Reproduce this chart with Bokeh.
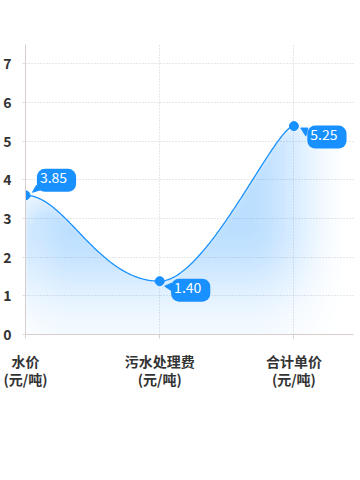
import numpy as np
from bokeh.plotting import figure
from bokeh.models import FixedTicker, Label, Range1d
from bokeh.embed import file_html
from bokeh.resources import INLINE

# ---- data ----
categories = ["水价\n(元/吨)", "污水处理费\n(元/吨)", "合计单价\n(元/吨)"]
plot_values = [3.60, 1.38, 5.39]          # positions of the points as drawn
value_labels = ["3.85", "1.40", "5.25"]   # texts in the callouts
y_ticks = [0, 1, 2, 3, 4, 5, 6, 7]

# ---- layout / style ----
X_END, Y_END = 2.444, 7.5
W, H = 354, 400
ML, MR, MT, MB = 23, 1, 44, 66
FW, FH = W - ML - MR, H - MT - MB
ppx, ppy = FW / X_END, FH / Y_END
BLUE = "#1890ff"
FONT = "Noto Sans CJK SC"
AXIS_COL = "#d8cccc"
GRID_COL = "#cfcfcf"

xs_cat = np.arange(len(categories), dtype=float)
ys = np.array(plot_values, dtype=float)

# ---- smooth curve (cubic bezier with horizontal handles) ----
handles = [(0.30, 0.46), (0.35, 0.14)]
t = np.linspace(0, 1, 120)
cx, cy = [], []
for i in range(len(xs_cat) - 1):
    x0, x1 = xs_cat[i], xs_cat[i + 1]
    y0, y1 = ys[i], ys[i + 1]
    a, b = handles[i]
    P = [(x0, y0), (x0 + a * (x1 - x0), y0), (x1 - b * (x1 - x0), y1), (x1, y1)]
    Bs = [(1 - t) ** 3, 3 * (1 - t) ** 2 * t, 3 * (1 - t) * t ** 2, t ** 3]
    bx = sum(Bs[k] * P[k][0] for k in range(4))
    by = sum(Bs[k] * P[k][1] for k in range(4))
    if i > 0:
        bx, by = bx[1:], by[1:]
    cx.extend(bx.tolist())
    cy.extend(by.tolist())
cx, cy = np.array(cx), np.array(cy)

# ---- gradient fill as an RGBA image ----
nx, ny = FW, FH
gx = (np.arange(nx) + 0.5) * X_END / nx
gy = (np.arange(ny) + 0.5) * Y_END / ny
top = np.where(gx <= xs_cat[-1], np.interp(gx, cx, cy), ys[-1])
M = (gy[:, None] <= top[None, :]).astype(float)

def gauss_matrix(n, sigma):
    idx = np.arange(n)
    K = np.exp(-0.5 * ((idx[:, None] - idx[None, :]) / sigma) ** 2)
    return K / (sigma * np.sqrt(2 * np.pi))

def smooth(u):
    u = np.clip(u, 0, 1)
    return u * u * (3 - 2 * u)

sig = 18.0
Bl = gauss_matrix(ny, sig) @ M @ gauss_matrix(nx, sig).T
E = np.clip(1.7 * Bl, 0, 1)
vis = M > 0
vf = (0.2 + 0.8 * smooth(gy / 2.8))[:, None]
hx = ((0.72 + 0.28 * smooth(gx / 0.35)) * (1 - smooth((gx - 1.65) / 0.8)))[None, :]
alpha = np.clip(0.29 * E * vf * hx, 0, 1) * vis
img = np.zeros((ny, nx), dtype=np.uint32)
view = img.view(dtype=np.uint8).reshape((ny, nx, 4))
view[..., 0] = 24
view[..., 1] = 144
view[..., 2] = 255
view[..., 3] = (alpha * 255).astype(np.uint8)

# ---- figure ----
p = figure(width=W, height=H, output_backend="svg", toolbar_location=None,
           x_range=Range1d(0, X_END), y_range=Range1d(0, Y_END),
           min_border_left=ML, min_border_right=MR, min_border_top=MT, min_border_bottom=MB)
p.outline_line_color = None
p.background_fill_color = "white"
p.border_fill_color = "white"

p.image_rgba(image=[img], x=0, y=0, dw=X_END, dh=Y_END)
p.line(cx, cy, line_color=BLUE, line_width=1.3)
p.scatter(xs_cat, ys, size=9, fill_color=BLUE, line_color=BLUE)

# axes
p.xaxis.ticker = FixedTicker(ticks=xs_cat.tolist())
p.xaxis.major_label_overrides = {i: c for i, c in enumerate(categories)}
p.yaxis.ticker = FixedTicker(ticks=y_ticks)
for ax in (p.xaxis[0], p.yaxis[0]):
    ax.axis_line_color = AXIS_COL
    ax.major_tick_line_color = AXIS_COL
    ax.minor_tick_line_color = None
    ax.major_tick_in = 0
    ax.major_label_text_font = FONT
    ax.major_label_text_font_style = "bold"
    ax.major_label_text_color = "#333333"
    ax.major_label_text_font_size = "14px"
p.xaxis.major_tick_out = 4
p.xaxis.major_label_standoff = 12
p.xaxis.major_label_text_line_height = 0.93
p.yaxis.major_tick_out = 3
p.yaxis.major_tick_line_color = "#dddddd"
p.yaxis.major_label_standoff = 11

for g in (p.xgrid[0], p.ygrid[0]):
    g.grid_line_color = GRID_COL
    g.grid_line_dash = "1 2"
    g.grid_line_width = 1
p.xgrid.ticker = FixedTicker(ticks=xs_cat.tolist())
p.ygrid.ticker = FixedTicker(ticks=y_ticks)

# callouts
label_offsets = [(31, 15), (31, -9), (33, -11)]
tails = [
    [(7, 3), (11, 10), (17, 6)],
    [(5, -5), (12, -2), (14, -11)],
    [(7, -2), (14, -2), (12, -10)],
]
tx, ty = [], []
for i in range(len(xs_cat)):
    tx.append([xs_cat[i] + dx / ppx for dx, dy in tails[i]])
    ty.append([ys[i] + dy / ppy for dx, dy in tails[i]])
p.patches(tx, ty, fill_color=BLUE, line_color=BLUE, line_width=1)
for i in range(len(xs_cat)):
    ox, oy = label_offsets[i]
    p.add_layout(Label(x=xs_cat[i], y=ys[i], x_offset=ox, y_offset=oy, text=value_labels[i],
                       text_align="center", text_baseline="middle", text_color="white",
                       text_font=FONT, text_font_size="14px",
                       background_fill_color=BLUE, border_radius=8, padding=(3, 9, 3, 9)))

open("out.html", "w").write(file_html(p, INLINE))
